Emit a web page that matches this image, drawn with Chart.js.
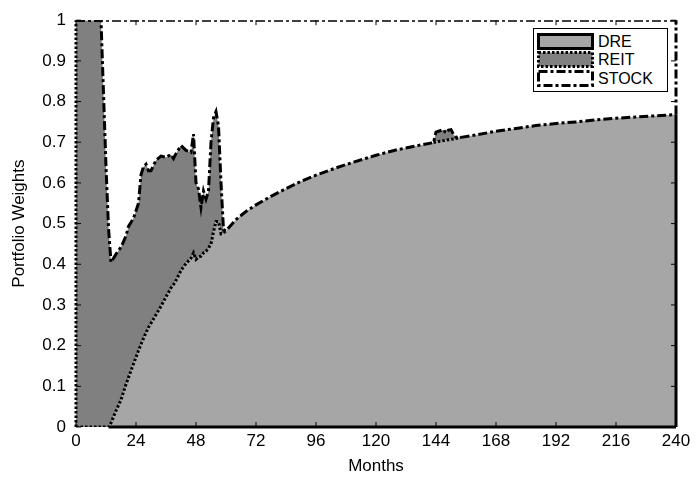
<!DOCTYPE html>
<html>
<head>
<meta charset="utf-8">
<script src="https://cdn.jsdelivr.net/npm/chart.js@4.4.1/dist/chart.umd.min.js"></script>
<style>
  body { margin: 0; background: #fff; }
  #wrap { position: relative; width: 697px; height: 480px; }
  #legend { position: absolute; left: 533px; top: 28px; width: 133px; height: 62px;
    border: 1px solid #000; background: #fff; font-family: "Liberation Sans", Arial, sans-serif; font-size: 16px; }
  #legend .row { position: absolute; left: 3px; height: 17px; }
  #legend svg { position: absolute; left: 0; top: 0; }
  #legend span { position: absolute; left: 61px; top: 0; line-height: 17px; }
</style>
</head>
<body>
<div id="wrap">
  <canvas id="weightsChart"></canvas>
  <div id="legend"></div>
</div>
<script>
const months = [0, 9, 10, 12, 13, 14, 16, 18, 20, 21, 23, 25, 26, 27, 28, 29, 30, 32, 34, 36, 38, 39, 40, 42, 44, 46, 47, 48, 49, 50, 51, 52, 53, 54, 55, 56, 57, 58, 59, 60, 64, 68, 72, 78, 84, 90, 96, 104, 112, 120, 128, 136, 143, 144, 145, 147, 148, 149, 150, 151, 152, 154, 160, 168, 176, 184, 192, 200, 208, 216, 224, 232, 240];

const dre = [0, 0, 0, 0, 0, 0.01, 0.04, 0.067, 0.105, 0.122, 0.155, 0.188, 0.203, 0.218, 0.232, 0.245, 0.255, 0.276, 0.297, 0.32, 0.342, 0.35, 0.36, 0.385, 0.402, 0.415, 0.428, 0.412, 0.418, 0.42, 0.428, 0.432, 0.44, 0.45, 0.48, 0.505, 0.505, 0.475, 0.477, 0.482, 0.51, 0.53, 0.546, 0.567, 0.586, 0.604, 0.619, 0.637, 0.653, 0.668, 0.681, 0.691, 0.699, 0.701, 0.702, 0.704, 0.705, 0.706, 0.707, 0.708, 0.709, 0.712, 0.718, 0.727, 0.734, 0.741, 0.746, 0.75, 0.755, 0.759, 0.762, 0.765, 0.768];

const reit = [1, 1, 1, 0.64, 0.49, 0.395, 0.385, 0.375, 0.365, 0.371, 0.358, 0.362, 0.417, 0.422, 0.414, 0.385, 0.375, 0.38, 0.369, 0.343, 0.328, 0.31, 0.312, 0.307, 0.278, 0.26, 0.292, 0.188, 0.167, 0.12, 0.152, 0.128, 0.14, 0.25, 0.28, 0.27, 0.235, 0.125, 0.008, 0, 0, 0, 0, 0, 0, 0, 0, 0, 0, 0, 0, 0, 0, 0.024, 0.025, 0.027, 0.017, 0.024, 0.024, 0.011, 0.003, 0, 0, 0, 0, 0, 0, 0, 0, 0, 0, 0, 0];

const stock = [0, 0, 0, 0.36, 0.51, 0.595, 0.575, 0.558, 0.53, 0.507, 0.487, 0.45, 0.38, 0.36, 0.354, 0.37, 0.37, 0.344, 0.334, 0.337, 0.33, 0.34, 0.328, 0.308, 0.32, 0.325, 0.28, 0.4, 0.415, 0.46, 0.42, 0.44, 0.42, 0.3, 0.24, 0.225, 0.26, 0.4, 0.515, 0.518, 0.49, 0.47, 0.454, 0.433, 0.414, 0.396, 0.381, 0.363, 0.347, 0.332, 0.319, 0.309, 0.301, 0.275, 0.273, 0.269, 0.278, 0.27, 0.269, 0.281, 0.288, 0.288, 0.282, 0.273, 0.266, 0.259, 0.254, 0.25, 0.245, 0.241, 0.238, 0.235, 0.232];

const xTicks = [0, 24, 48, 72, 96, 120, 144, 168, 192, 216, 240];
const yTicks = [0, 0.1, 0.2, 0.3, 0.4, 0.5, 0.6, 0.7, 0.8, 0.9, 1];

const seriesNames = ['DRE', 'REIT', 'STOCK'];
const fills = ['#a6a6a6', '#808080', '#ffffff'];
const dashDot = [9, 3, 3, 3];
const dotted = [2.5, 2];
const font = { family: '"Liberation Sans", Arial, sans-serif', size: 17 };

// the dotted REIT edge along the DRE boundary, only where REIT is actually present
const dreEdge = dre.map((v, i) => (reit[i] > 0 || reit[i - 1] > 0 || reit[i + 1] > 0) ? v : null);

// MATLAB style frame: inner ticks and the patch edges along the box
const framePlugin = {
    id: 'frame',
    afterDatasetsDraw(chart) {
        const { ctx, chartArea: a, scales: { x, y } } = chart;
        const last = months.length - 1;
        const start = dre.findIndex(v => v > 0);
        ctx.save();
        ctx.strokeStyle = '#000';
        ctx.lineWidth = 1;
        ctx.beginPath();
        xTicks.forEach(v => {
            const px = x.getPixelForValue(v);
            ctx.moveTo(px, a.bottom); ctx.lineTo(px, a.bottom - 5);
            ctx.moveTo(px, a.top); ctx.lineTo(px, a.top + 5);
        });
        yTicks.forEach(v => {
            const py = y.getPixelForValue(v);
            ctx.moveTo(a.left, py); ctx.lineTo(a.left + 5, py);
            ctx.moveTo(a.right, py); ctx.lineTo(a.right - 5, py);
        });
        ctx.stroke();

        const edge = (dash, x0, y0, x1, y1) => {
            ctx.setLineDash(dash);
            ctx.beginPath();
            ctx.moveTo(x0, y0);
            ctx.lineTo(x1, y1);
            ctx.stroke();
        };
        ctx.lineWidth = 3;
        edge([], x.getPixelForValue(months[start - 1]), a.bottom, a.right, a.bottom);
        edge([], a.right, a.bottom, a.right, y.getPixelForValue(dre[last]));
        edge(dashDot, a.right, y.getPixelForValue(dre[last] + reit[last]), a.right, a.top);
        edge(dotted, a.left, a.bottom, a.left, a.top);
        ctx.restore();
    }
};

function buildLegend() {
    const legend = document.getElementById('legend');
    const dashes = [null, '2.5 2', '9 3 3 3'];
    const tops = [4, 22, 41];
    seriesNames.forEach((name, i) => {
        const row = document.createElement('div');
        row.className = 'row';
        row.style.top = tops[i] + 'px';
        const dash = dashes[i] ? ` stroke-dasharray="${dashes[i]}"` : '';
        row.innerHTML = `<svg width="58" height="17"><rect x="1.5" y="1.5" width="54" height="14" fill="${fills[i]}" stroke="#000" stroke-width="3"${dash}/></svg><span>${name}</span>`;
        legend.appendChild(row);
    });
}

function renderChart() {
    const ctx = document.getElementById('weightsChart').getContext('2d');
    const common = { borderColor: '#000', borderWidth: 3, pointRadius: 0, tension: 0 };
    new Chart(ctx, {
        type: 'line',
        data: {
            labels: months,
            datasets: [{
                ...common,
                label: seriesNames[0],
                data: dre,
                fill: 'origin',
                backgroundColor: fills[0],
                borderColor: 'rgba(0,0,0,0)'
            }, {
                ...common,
                label: seriesNames[1],
                data: reit,
                fill: '-1',
                backgroundColor: fills[1],
                borderDash: dashDot
            }, {
                ...common,
                label: seriesNames[2],
                data: stock,
                fill: '-1',
                backgroundColor: fills[2],
                borderDash: dashDot
            }, {
                ...common,
                label: 'DRE edge',
                data: dreEdge,
                yAxisID: 'yEdge',
                fill: false,
                borderDash: dotted,
                spanGaps: false,
                order: -1
            }]
        },
        options: {
            responsive: true,
            maintainAspectRatio: false,
            animation: false,
            layout: { padding: { top: 14, right: 21, left: 0, bottom: 0 } },
            plugins: {
                filler: { drawTime: 'beforeDatasetsDraw' },
                legend: { display: false },
                tooltip: { enabled: false }
            },
            scales: {
                x: {
                    type: 'linear',
                    min: 0,
                    max: 240,
                    afterBuildTicks: s => { s.ticks = xTicks.map(v => ({ value: v })); },
                    afterFit: s => { s.height = 53; },
                    grid: { display: false, drawTicks: false },
                    border: { display: false },
                    ticks: { color: '#000', font: font, padding: 4, maxRotation: 0 },
                    title: { display: true, text: 'Months', color: '#000', font: font, padding: { top: 0, bottom: 3 } }
                },
                y: {
                    stacked: true,
                    min: 0,
                    max: 1,
                    afterBuildTicks: s => { s.ticks = yTicks.map(v => ({ value: v })); },
                    afterFit: s => { s.width = 76; },
                    grid: { display: false, drawTicks: false },
                    border: { display: false },
                    ticks: { color: '#000', font: font, padding: 10, callback: v => String(+v.toFixed(1)) },
                    title: { display: true, text: 'Portfolio Weights', color: '#000', font: font, padding: { top: 9, bottom: 0 } }
                },
                yEdge: {
                    display: false,
                    min: 0,
                    max: 1
                }
            }
        },
        plugins: [framePlugin]
    });
}

buildLegend();
renderChart();
</script>
</body>
</html>
